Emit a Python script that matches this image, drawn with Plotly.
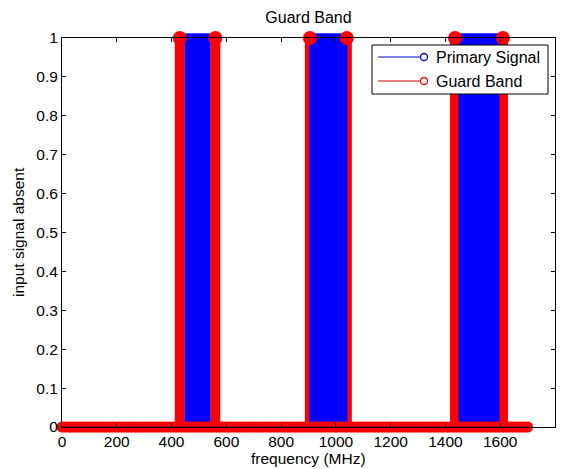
import plotly.graph_objects as go

# ---- data ----
# Primary signal: frequencies (MHz) where the signal is present (value 1)
primary_band1 = list(range(455, 536, 5))
primary_band2 = list(range(910, 1036, 5))
primary_band3 = list(range(1455, 1591, 5))
primary_freqs = primary_band1 + primary_band2 + primary_band3
primary_vals = [1] * len(primary_freqs)

# Guard band: stems at value 1 at the band edges
guard_on_freqs = [430, 560, 905, 1040, 1435, 1610]
guard_on_vals = [1, 1, 1, 1, 1, 1]
# Guard band: value 0 over the whole sweep 0..1700 MHz
guard_off_freqs = list(range(0, 1701, 10))
guard_off_vals = [0] * len(guard_off_freqs)

x_ticks = [0, 200, 400, 600, 800, 1000, 1200, 1400, 1600, 1800]
y_ticks = [0, 0.1, 0.2, 0.3, 0.4, 0.5, 0.6, 0.7, 0.8, 0.9, 1]
y_tick_text = ["0", "0.1", "0.2", "0.3", "0.4", "0.5", "0.6", "0.7", "0.8", "0.9", "1"]

BLUE = "#0000ff"
RED = "#ff0000"


def stems(xs, ys):
    sx, sy = [], []
    for x, y in zip(xs, ys):
        sx += [x, x, None]
        sy += [0, y, None]
    return sx, sy


fig = go.Figure()

# red guard stems (lines)
gx, gy = stems(guard_on_freqs, guard_on_vals)
fig.add_trace(go.Scatter(x=gx, y=gy, mode="lines", line=dict(color=RED, width=10),
                         showlegend=False, hoverinfo="skip"))
# blue primary stems
px_, py_ = stems(primary_freqs, primary_vals)
fig.add_trace(go.Scatter(x=px_, y=py_, mode="lines", line=dict(color=BLUE, width=4),
                         showlegend=False, hoverinfo="skip"))
fig.add_trace(go.Scatter(x=primary_freqs, y=primary_vals, mode="markers",
                         marker=dict(color=BLUE, size=9, symbol="circle"),
                         cliponaxis=False, showlegend=False, name="Primary Signal"))
# red guard markers
fig.add_trace(go.Scatter(x=guard_off_freqs, y=guard_off_vals, mode="markers",
                         marker=dict(color=RED, size=11, symbol="circle"),
                         cliponaxis=False, showlegend=False, name="Guard Band"))
fig.add_trace(go.Scatter(x=guard_on_freqs, y=guard_on_vals, mode="markers",
                         marker=dict(color=RED, size=14, symbol="circle"),
                         cliponaxis=False, showlegend=False, name="Guard Band"))

# baseline of stems
fig.add_shape(type="line", xref="x", yref="y", x0=0, x1=1700, y0=0, y1=0,
              line=dict(color="#700000", width=1), layer="above")

# custom MATLAB-like legend
W, H = 572, 469
PL, PR, PT, PB = 62, 555, 38, 427


def pxx(v):
    return (v - PL) / (PR - PL)


def pyy(v):
    return (PB - v) / (PB - PT)


fig.add_shape(type="rect", xref="paper", yref="paper",
              x0=pxx(372), x1=pxx(548), y0=pyy(94), y1=pyy(45),
              fillcolor="white", line=dict(color="black", width=1), layer="above")
for ypix, col, label in [(57, "#0000cc", "Primary Signal"), (81, "#dd0000", "Guard Band")]:
    fig.add_shape(type="line", xref="paper", yref="paper",
                  x0=pxx(378), x1=pxx(420), y0=pyy(ypix), y1=pyy(ypix),
                  line=dict(color=col, width=1), layer="above")
    r = 3.5
    fig.add_shape(type="circle", xref="paper", yref="paper",
                  x0=pxx(424 - r), x1=pxx(424 + r), y0=pyy(ypix + r), y1=pyy(ypix - r),
                  line=dict(color=col, width=1.3), fillcolor="white", layer="above")
    fig.add_annotation(xref="paper", yref="paper", x=pxx(434), y=pyy(ypix),
                       text=label, showarrow=False, xanchor="left", yanchor="middle",
                       font=dict(size=16, color="black"))

# axis titles placed like the reference
fig.add_annotation(xref="paper", yref="paper", x=pxx((PL + PR) / 2), y=pyy(459),
                   text="frequency (MHz)", showarrow=False, xanchor="center",
                   yanchor="middle", font=dict(size=15.5, color="black"))
fig.add_annotation(xref="paper", yref="paper", x=pxx(18), y=pyy(232),
                   text="input signal absent", showarrow=False, textangle=-90,
                   xanchor="center", yanchor="middle", font=dict(size=15.5, color="black"))

axis_common = dict(showline=True, linecolor="black", linewidth=1, mirror="ticks",
                   ticks="inside", ticklen=4, tickcolor="black", showgrid=False,
                   zeroline=False, automargin=False,
                   tickfont=dict(size=15.5, color="black"))

fig.update_layout(
    width=W, height=H,
    margin=dict(l=PL, r=W - PR, t=PT, b=H - PB, autoexpand=False),
    paper_bgcolor="white", plot_bgcolor="white",
    font=dict(family="Liberation Sans, Arial, sans-serif", color="black"),
    title=dict(text="Guard Band", x=(PL + PR) / 2 / W, xanchor="center",
               y=1 - 17 / H, yanchor="middle", font=dict(size=16)),
    xaxis=dict(range=[0, 1800], tickvals=x_ticks, ticktext=[str(t) for t in x_ticks],
               **axis_common),
    yaxis=dict(range=[0, 1], tickvals=y_ticks, ticktext=y_tick_text, **axis_common),
)

fig.write_html("out.html", config={"displayModeBar": False},
               post_script="document.body.style.margin='0';document.body.style.overflow='hidden';")
